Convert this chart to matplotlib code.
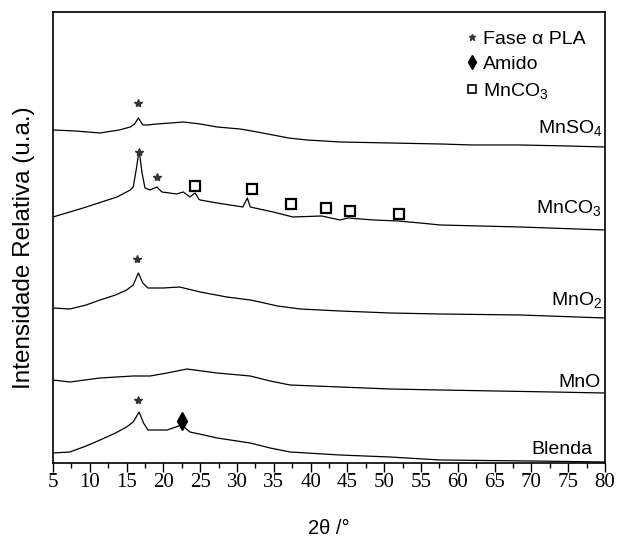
import matplotlib
matplotlib.use("Agg")
import matplotlib.pyplot as plt
from matplotlib.lines import Line2D

plt.rcParams["font.family"] = ["Liberation Sans", "DejaVu Sans"]
plt.rcParams["mathtext.default"] = "regular"

# --- dados (2θ em graus, intensidade em unidades arbitrárias, já deslocadas) ---
x_mnso4 = [5, 8, 11.4, 14, 15.5, 16.1, 16.6, 17.2, 17.8, 19.1, 21, 22.7, 25, 27.3, 30.4, 32,
           34.9, 37, 39.5, 44, 50.8, 57.6, 62, 68.5, 75, 80]
y_mnso4 = [333, 332, 330, 333, 336, 339, 345, 338, 338, 339, 340, 341, 339, 336, 334, 332,
           328, 325, 323, 321, 320, 319, 318, 318, 317, 316]

x_mnco3 = [5, 9.1, 13.7, 15.5, 15.9, 16.3, 16.7, 17.1, 17.5, 18.2, 19.1, 19.8, 21.8, 22.7,
           23.6, 24.3, 24.8, 25, 27.3, 30.8, 31.4, 31.8, 34.9, 37.6, 41.5, 44, 45.1, 48.5,
           51.9, 54.9, 57.6, 68.5, 80]
y_mnco3 = [246, 255, 266, 273, 276, 293, 313, 290, 275, 273, 276, 271, 269, 271,
           266, 270, 264, 263, 260, 256, 265, 256, 251, 246, 247, 243, 245, 243,
           242, 240, 238, 236, 233]

x_mno2 = [5, 7.3, 9.5, 11.4, 13.5, 15, 15.9, 16.6, 17.2, 17.9, 20, 22.2, 25, 28.6, 31.8,
          33.1, 35.5, 38.6, 44, 50.8, 57.6, 68.5, 80]
y_mno2 = [155, 154, 158, 163, 168, 173, 178, 190, 180, 175, 175, 176, 171, 166, 163,
          161, 157, 154, 152, 150, 149, 148, 145]

x_mno = [5, 7.3, 11.4, 15.9, 18.2, 20.5, 23.2, 27.3, 31.8, 34.5, 37.2, 44, 50.8, 57.6, 72.9, 80]
y_mno = [83, 81, 85, 87, 87, 90, 94, 90, 87, 82, 78, 76, 74, 73, 71, 70]

x_blenda = [5, 7.3, 9.5, 11.4, 13.5, 15, 15.9, 16.7, 17.3, 17.9, 20.5, 22.5, 23.6, 25.5,
            27.3, 31.8, 34.5, 37.2, 44, 50.8, 57.6, 70, 80]
y_blenda = [10, 11, 17, 23, 30, 36, 41, 51, 40, 33, 33, 38, 31, 28,
            25, 20, 15, 11, 8, 6, 3, 2, 1]

series = [
    (x_mnso4, y_mnso4), (x_mnco3, y_mnco3), (x_mno2, y_mno2), (x_mno, y_mno), (x_blenda, y_blenda),
]
labels = ["MnSO$_4$", "MnCO$_3$", "MnO$_2$", "MnO", "Blenda"]
label_x = [79.7, 79.5, 79.7, 79.4, 78.3]
label_y = [330, 250, 158, 76, 9]

# marcadores de fase
star_x = [16.6, 16.7, 19.1, 16.4, 16.6]
star_y = [360, 311, 286, 204, 63]
amido_x = [22.5]
amido_y = [42]
carb_x = [24.3, 32.0, 37.4, 42.1, 45.3, 52.0]
carb_y = [277, 274, 259, 255, 252, 249]

fig = plt.figure(figsize=(6.17, 5.37), dpi=100)
ax = fig.add_axes([0.0859, 0.1378, 0.8946, 0.8399])

for xs, ys in series:
    ax.plot(xs, ys, color="black", linewidth=0.9)

ax.plot(star_x, star_y, linestyle="none", marker="*", markersize=6, color="#333333")
ax.plot(amido_x, amido_y, linestyle="none", marker="d", markersize=9, color="black")
ax.plot(carb_x, carb_y, linestyle="none", marker="s", markersize=7.5,
        markerfacecolor="white", markeredgecolor="black", markeredgewidth=1.6)

for lab, lx, ly in zip(labels, label_x, label_y):
    ax.text(lx, ly, lab, ha="right", va="baseline", fontsize=14)

handles = [
    Line2D([], [], linestyle="none", marker="*", markersize=5, color="#333333"),
    Line2D([], [], linestyle="none", marker="d", markersize=7, color="black"),
    Line2D([], [], linestyle="none", marker="s", markersize=5.5, markerfacecolor="white",
           markeredgecolor="black", markeredgewidth=1.2),
]
ax.legend(handles, ["Fase \u03b1 PLA", "Amido", "MnCO$_3$"], loc="upper right",
          frameon=False, fontsize=14, handlelength=0.6, handletextpad=0.3,
          labelspacing=0.4, borderaxespad=0.3, bbox_to_anchor=(0.99, 0.99))

ax.set_xlim(5, 80)
ax.set_ylim(0, 451)
ax.set_xticks(range(5, 81, 5))
ax.set_xticks([v + 2.5 for v in range(5, 80, 5)], minor=True)
ax.set_yticks([])
ax.tick_params(axis="x", which="major", direction="out", length=6.5, width=1, pad=1,
               labelsize=15, labelfontfamily="Liberation Serif")
ax.tick_params(axis="x", which="minor", direction="out", length=3.5, width=1)
for sp in ax.spines.values():
    sp.set_linewidth(1.2)

ax.set_xlabel("2\u03b8 /\u00b0", fontsize=14.5)
ax.xaxis.set_label_coords(0.5, -0.125)
ax.set_ylabel("Intensidade Relativa (u.a.)", fontsize=17.5)
ax.yaxis.set_label_coords(-0.033, 0.477)

fig.savefig("out.png", dpi=100)
